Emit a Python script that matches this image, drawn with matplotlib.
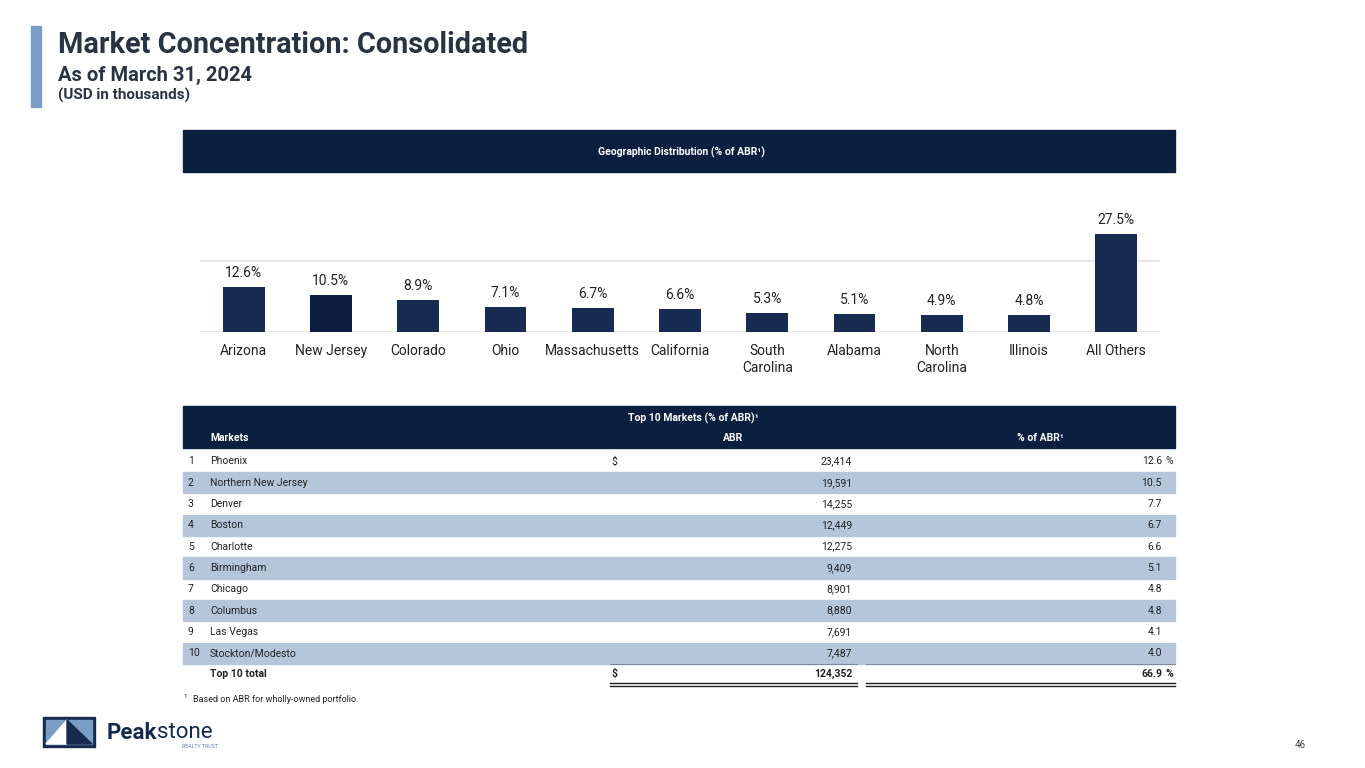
import matplotlib
matplotlib.use("Agg")
import matplotlib.pyplot as plt
from matplotlib.patches import Rectangle, Polygon

plt.rcParams['font.family'] = ['Roboto', 'DejaVu Sans']

# ---------------- data ----------------
states = ["Arizona", "New Jersey", "Colorado", "Ohio", "Massachusetts", "California",
          "South\nCarolina", "Alabama", "North\nCarolina", "Illinois", "All Others"]
state_pct = [12.6, 10.5, 8.9, 7.1, 6.7, 6.6, 5.3, 5.1, 4.9, 4.8, 27.5]

markets = ["Phoenix", "Northern New Jersey", "Denver", "Boston", "Charlotte",
           "Birmingham", "Chicago", "Columbus", "Las Vegas", "Stockton/Modesto"]
market_abr = [23414, 19591, 14255, 12449, 12275, 9409, 8901, 8880, 7691, 7487]
market_pct = [12.6, 10.5, 7.7, 6.7, 6.6, 5.1, 4.8, 4.8, 4.1, 4.0]

NAVY = "#0b1f3e"
BAR = "#172a4f"
BAND = "#b5c6db"
TXT = "#222222"

W, H = 1365, 768
fig = plt.figure(figsize=(W / 100, H / 100), dpi=100)
fig.patch.set_facecolor("white")

bg = fig.add_axes([0, 0, 1, 1], zorder=0)
bg.set_xlim(0, W)
bg.set_ylim(H, 0)
bg.axis("off")

# ---------------- title ----------------
bg.add_patch(Rectangle((31, 26), 10, 81, color="#7b9cc4"))
bg.text(58, 45, "Market Concentration: Consolidated", fontsize=20.8, fontweight="bold",
        color="#2a3341", va="center", ha="left")
bg.text(58, 75, "As of March 31, 2024", fontsize=14.5, fontweight="bold",
        color="#2a3341", va="center", ha="left")
bg.text(58, 95, "(USD in thousands)", fontsize=11, fontweight="bold",
        color="#2a3341", va="center", ha="left")

# ---------------- chart header ----------------
bg.add_patch(Rectangle((183, 130), 992, 42, color=NAVY))
bg.text(682, 152, "Geographic Distribution (% of ABR\u00b9)", fontsize=7.5, fontweight="bold",
        color="white", va="center", ha="center")

# ---------------- bar chart ----------------
ax_l, ax_r, ax_b, ax_t = 200, 1160, 332, 191.4
ax = fig.add_axes([ax_l / W, 1 - ax_b / H, (ax_r - ax_l) / W, (ax_b - ax_t) / H], zorder=2)
ax.patch.set_alpha(0)
x = list(range(len(states)))
colors = [BAR] * len(states)
colors[1] = "#0d1f40"
bars = ax.bar(x, state_pct, width=0.48, color=colors, zorder=3)
ax.set_xlim(-0.5, len(states) - 0.5)
ax.set_ylim(0, 39.5)
ax.set_yticks([0, 20])
ax.yaxis.grid(True, color="#e3e3e3", linewidth=1.2, zorder=0)
ax.tick_params(axis="y", left=False, labelleft=False)
ax.tick_params(axis="x", bottom=False, pad=5, labelsize=10, labelcolor=TXT)
ax.set_xticks(x)
ax.set_xticklabels(states, linespacing=1.25)
for s in ax.spines.values():
    s.set_visible(False)
for b, v in zip(bars, state_pct):
    ax.annotate(f"{v:.1f}%", (b.get_x() + b.get_width() / 2, v), xytext=(0, 5),
                textcoords="offset points", ha="center", va="bottom", fontsize=10,
                color=TXT, clip_on=False)

# ---------------- table ----------------
hfs = 7.5
bg.add_patch(Rectangle((183, 406), 992, 42, color=NAVY))
bg.text(693, 418, "Top 10 Markets (% of ABR)\u00b9", fontsize=hfs, fontweight="bold",
        color="white", va="center", ha="center")
bg.text(210, 438, "Markets", fontsize=hfs, fontweight="bold", color="white",
        va="center", ha="left")
bg.text(733, 438, "ABR", fontsize=hfs, fontweight="bold", color="white",
        va="center", ha="center")
bg.text(1040, 438, "% of ABR\u00b9", fontsize=hfs, fontweight="bold", color="white",
        va="center", ha="center")

row_h = 21.3
y0 = 461.5
fs = 7.5
for i, (m, a, p) in enumerate(zip(markets, market_abr, market_pct)):
    yc = y0 + i * row_h
    if i % 2 == 1:
        bg.add_patch(Rectangle((183, yc - row_h / 2), 992, row_h, color=BAND, zorder=0))
    bg.text(188, yc, str(i + 1), fontsize=fs, color=TXT, va="center", ha="left")
    bg.text(210, yc, m, fontsize=fs, color=TXT, va="center", ha="left")
    if i == 0:
        bg.text(611, yc, "$", fontsize=fs, color=TXT, va="center", ha="left")
        bg.text(1166, yc, "%", fontsize=fs, color=TXT, va="center", ha="left")
    bg.text(852, yc, f"{a:,}", fontsize=fs, color=TXT, va="center", ha="right")
    bg.text(1162, yc, f"{p:.1f}", fontsize=fs, color=TXT, va="center", ha="right")

# border under last row
yb = y0 + (len(markets) - 1) * row_h + row_h / 2
bg.plot([610, 857], [yb, yb], color="#7f8a96", lw=0.8)
bg.plot([866, 1175], [yb, yb], color="#7f8a96", lw=0.8)

# total row
yt = 674
tot_abr = sum(market_abr)
tot_pct = sum(market_pct)
bg.text(210, yt, "Top 10 total", fontsize=fs, fontweight="bold", color=TXT, va="center", ha="left")
bg.text(611, yt, "$", fontsize=fs, fontweight="bold", color=TXT, va="center", ha="left")
bg.text(852, yt, f"{tot_abr:,}", fontsize=fs, fontweight="bold", color=TXT, va="center", ha="right")
bg.text(1162, yt, f"{tot_pct:.1f}", fontsize=fs, fontweight="bold", color=TXT, va="center", ha="right")
bg.text(1166, yt, "%", fontsize=fs, fontweight="bold", color=TXT, va="center", ha="left")
for yy in (682.5, 685.5):
    bg.plot([610, 857], [yy, yy], color="#222222", lw=1.0)
    bg.plot([866, 1175], [yy, yy], color="#222222", lw=1.0)

# footnote
bg.text(184, 697, "1", fontsize=4.5, color=TXT, va="center", ha="left")
bg.text(193, 700, "Based on ABR for wholly-owned portfolio.", fontsize=6.5, color=TXT,
        va="center", ha="left")

# ---------------- logo ----------------
bg.add_patch(Rectangle((43, 717), 52, 30, color="#152a4d"))
bg.add_patch(Rectangle((46, 720), 46, 24, color="#7b9cc4"))
bg.add_patch(Polygon([(46, 744), (67, 720), (67, 744)], closed=True, color="white"))
bg.add_patch(Polygon([(67, 720), (92, 744), (67, 744)], closed=True, color="#152a4d"))
peak = bg.text(107, 733, "Peak", fontsize=16, fontweight="bold", color="#152a4d",
               va="center", ha="left")
fig.canvas.draw()
ext = peak.get_window_extent(renderer=fig.canvas.get_renderer())
x_end = bg.transData.inverted().transform((ext.x1, ext.y0))[0]
bg.text(x_end, 733, "stone", fontsize=16, color="#152a4d", va="center", ha="left")
bg.text(218, 746.5, "REALTY TRUST", fontsize=3.8, color="#6b85aa", va="center", ha="right")

# page number
bg.text(1300, 745, "46", fontsize=7, color="#444444", va="center", ha="center")

fig.savefig("out.png", dpi=100, facecolor="white")
